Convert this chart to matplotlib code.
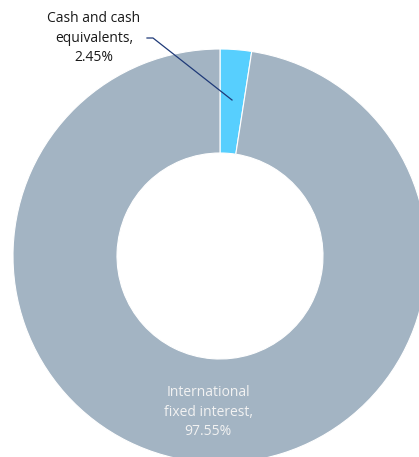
import matplotlib
matplotlib.use("Agg")
import matplotlib.pyplot as plt

categories = ["Cash and cash\nequivalents", "International\nfixed interest"]
values = [2.45, 97.55]
colors = ["#57CFFE", "#A3B4C3"]

W, H = 419, 457
fig = plt.figure(figsize=(W / 100, H / 100), dpi=100)
ax = fig.add_axes([0, 0, 1, 1])

cx, cy = 220, H - 256
R, r = 207, 103
wedges, _ = ax.pie(values, colors=colors, startangle=90, counterclock=False,
                   center=(cx, cy), radius=R, frame=True,
                   wedgeprops=dict(width=R - r, edgecolor="white", linewidth=0.8))
ax.set_xlim(0, W)
ax.set_ylim(0, H)
ax.set_aspect("equal")
ax.axis("off")

font = ["Open Sans", "DejaVu Sans"]
ax.text(94, H - 38, f"{categories[0]},\n{values[0]:.2f}%", ha="center", va="center",
        fontsize=10, family=font, color="#1a1a1a", linespacing=1.45)
ax.plot([147, 153, 232], [H - 38, H - 38, H - 100], color="#1F3A78", lw=0.9)
ax.text(208, H - 412, f"{categories[1]},\n{values[1]:.2f}%", ha="center", va="center",
        fontsize=10, family=font, color="#F2F2F2", linespacing=1.45)

fig.savefig("out.png", dpi=100)
